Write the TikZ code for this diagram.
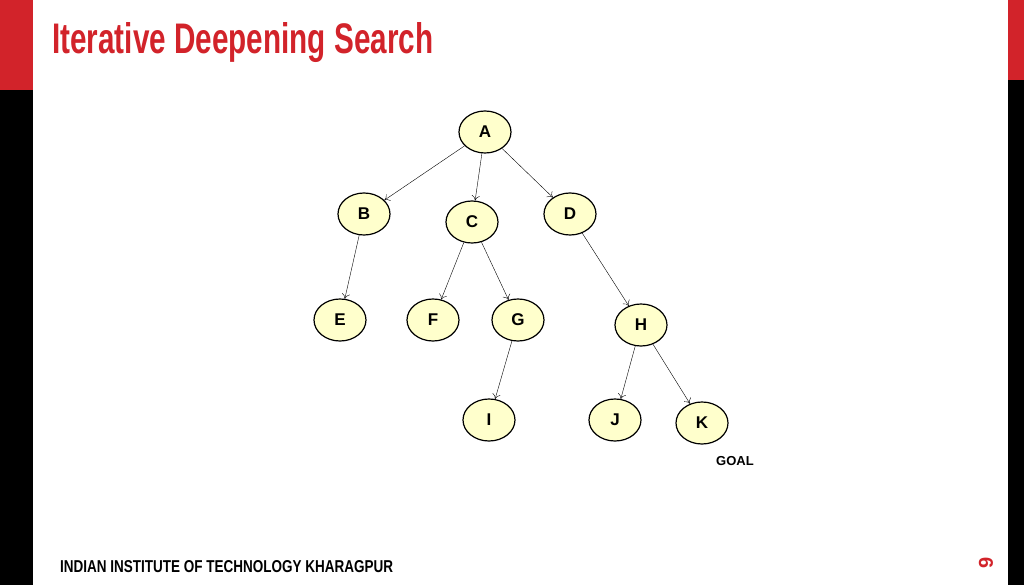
\documentclass[tikz,border=0pt]{standalone}
\usepackage{fontspec}
\setmainfont{Liberation Sans}
\usepackage{graphicx}
\usetikzlibrary{shapes.geometric,arrows.meta}
\begin{document}
\begin{tikzpicture}[x=1pt,y=-1pt,
  nd/.style={ellipse,draw,line width=1.2pt,fill={rgb,255:red,255;green,255;blue,204},minimum width=52pt,minimum height=42pt,inner sep=0pt,font=\bfseries\fontsize{17}{17}\selectfont},
  ed/.style={-{To[length=5pt,width=8pt]},thin}]
\useasboundingbox (0,0) rectangle (1024,585);
\definecolor{ired}{RGB}{210,35,42}
\fill[ired] (0,0) rectangle (33,90);
\fill[black] (0,90) rectangle (33,585);
\fill[ired] (1008,0) rectangle (1024,80);
\fill[black] (1008,80) rectangle (1024,585);
\node[anchor=west,text=ired,inner sep=0pt] (title) at (52,43) {\resizebox{381pt}{31pt}{\bfseries Iterative Deepening Search}};
\node[anchor=west,inner sep=0pt] (foot) at (60,567) {\resizebox{333pt}{12pt}{\bfseries INDIAN INSTITUTE OF TECHNOLOGY KHARAGPUR}};
\node[rotate=90,text=ired,font=\bfseries\fontsize{20}{20}\selectfont] (pg) at (986,563) {9};
\node[nd] (A) at (485,132) {A};
\node[nd] (B) at (364,214) {B};
\node[nd] (C) at (472,222) {C};
\node[nd] (D) at (570,214) {D};
\node[nd] (E) at (340,320) {E};
\node[nd] (F) at (433,320) {F};
\node[nd] (G) at (518,320) {G};
\node[nd] (H) at (641,325) {H};
\node[nd] (I) at (489,420) {I};
\node[nd] (J) at (615,420) {J};
\node[nd] (K) at (702,423) {K};
\node[font=\bfseries\fontsize{13}{13}\selectfont] (goal) at (735,461) {GOAL};
\foreach \a/\b in {A/B,A/C,A/D,B/E,C/F,C/G,D/H,G/I,H/J,H/K} \draw[ed] (\a) -- (\b);
\end{tikzpicture}
\end{document}
